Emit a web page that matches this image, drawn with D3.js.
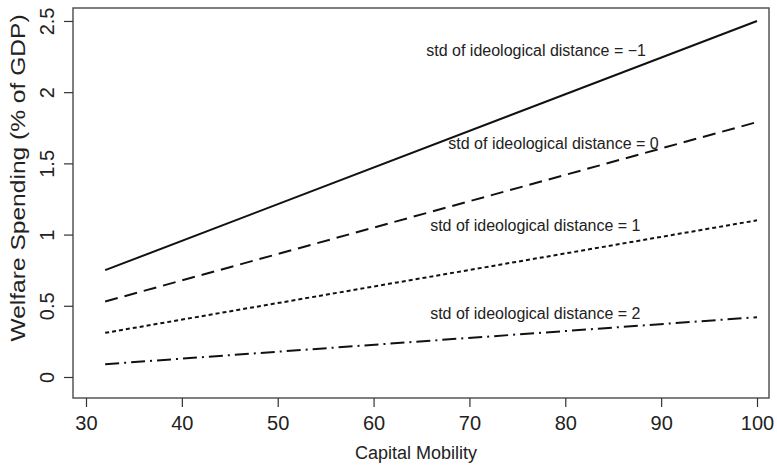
<!DOCTYPE html>
<html><head><meta charset="utf-8">
<script src="https://cdn.jsdelivr.net/npm/d3@7"></script>
<style>body{margin:0;background:#fff}svg{display:block}text{font-family:"Liberation Sans",Arial,Helvetica,sans-serif;fill:#222}</style>
</head><body>
<script>
// Data
const capitalMobility = [32, 100];
const seriesNames = ["std of ideological distance = \u22121", "std of ideological distance = 0", "std of ideological distance = 1", "std of ideological distance = 2"];
const seriesMinus1 = [0.75, 2.50];
const series0 = [0.53, 1.79];
const series1 = [0.31, 1.10];
const series2 = [0.09, 0.42];
const xTicks = [30, 40, 50, 60, 70, 80, 90, 100];
const yTicks = [0, 0.5, 1, 1.5, 2, 2.5];
const labelAnchorX = [65.5, 67.8, 65.9, 65.9];
const labelAnchorY = [2.254, 1.601, 1.025, 0.407];

const W = 777, H = 469;
const box = {l: 73, r: 769, t: 8, b: 398};
const svg = d3.select("body").append("svg").attr("width", W).attr("height", H);

const x = d3.scaleLinear().domain([28.644, 101.252]).range([box.l, box.r]);
const y = d3.scaleLinear().domain([-0.1475, 2.591]).range([box.b, box.t]);

// box
svg.append("rect").attr("x", box.l).attr("y", box.t).attr("width", box.r - box.l).attr("height", box.b - box.t)
  .attr("fill", "none").attr("stroke", "#555").attr("stroke-width", 1.5);

// x axis
const xa = svg.append("g").attr("transform", `translate(0,${box.b})`)
  .call(d3.axisBottom(x).tickValues(xTicks).tickSize(9).tickFormat(d3.format("d")));
xa.select(".domain").remove();
xa.selectAll("line").attr("stroke", "#333").attr("stroke-width", 1.2);
xa.selectAll("text").attr("font-size", 20).attr("fill", "#222").attr("font-family", "Liberation Sans, Arial, sans-serif")
  .attr("y", 32).attr("dy", null);

// y axis
const ya = svg.append("g").attr("transform", `translate(${box.l},0)`)
  .call(d3.axisLeft(y).tickValues(yTicks).tickSize(9).tickFormat(d => String(d)));
ya.select(".domain").remove();
ya.selectAll("line").attr("stroke", "#333").attr("stroke-width", 1.2);
ya.selectAll("text").attr("font-size", 20).attr("fill", "#222").attr("font-family", "Liberation Sans, Arial, sans-serif")
  .attr("x", null).attr("dy", null).attr("text-anchor", "middle")
  .attr("transform", "translate(-26,0) rotate(-90)").attr("dominant-baseline", "central");

// axis titles
svg.append("text").attr("x", (box.l + box.r) / 2 - 5).attr("y", 459).attr("text-anchor", "middle")
  .attr("font-size", 18).text("Capital Mobility");
svg.append("text").attr("transform", `translate(25,178) rotate(-90) scale(1.17,1)`).attr("text-anchor", "middle")
  .attr("font-size", 21).text("Welfare Spending (% of GDP)");

// lines
const allSeries = [seriesMinus1, series0, series1, series2];
const dashes = [null, "13,7", "4,3", "14,5,2,5"];
const line = d3.line().x(d => x(d[0])).y(d => y(d[1]));
allSeries.forEach((s, i) => {
  svg.append("path").datum(capitalMobility.map((c, j) => [c, s[j]]))
    .attr("d", line).attr("fill", "none").attr("stroke", "#111").attr("stroke-width", 2)
    .attr("stroke-dasharray", dashes[i]);
});

// labels
seriesNames.forEach((n, i) => {
  svg.append("text").attr("x", x(labelAnchorX[i])).attr("y", y(labelAnchorY[i]))
    .attr("font-size", 16).text(n);
});
</script>
</body></html>
